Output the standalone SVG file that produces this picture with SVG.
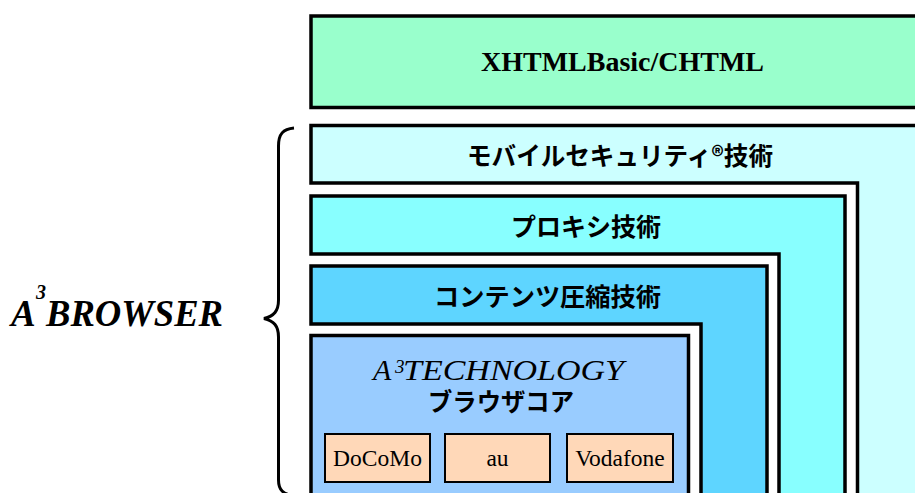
<svg xmlns="http://www.w3.org/2000/svg" width="915" height="493" viewBox="0 0 915 493">
<style>
.box{stroke:#000;stroke-width:3.5;stroke-linejoin:miter}
.vendor{fill:#FFD8B8;stroke:#000;stroke-width:2}
.jp{font-family:"Noto Sans CJK JP","Noto Sans",sans-serif;font-weight:700;fill:#000}
.serif{font-family:"Liberation Serif","Times New Roman",serif;fill:#000}
.vt{font-family:"Liberation Serif","Times New Roman",serif;font-size:23.5px;text-anchor:middle;fill:#000}
</style>
<rect width="915" height="493" fill="#fff"/>
<g id="xhtml">
<rect class="box" x="311" y="16" width="640" height="91.5" fill="#99FFCC"/>
<text class="serif" x="481" y="71" font-size="27" font-weight="700" textLength="283" lengthAdjust="spacingAndGlyphs">XHTMLBasic/CHTML</text>
</g>
<g id="mobile-security">
<path class="box" d="M311,125.5 H940 V520 H857.5 V183 H311 Z" fill="#CCFFFF"/>
<text class="jp" x="467" y="165" font-size="25.5" textLength="306" lengthAdjust="spacingAndGlyphs">モバイルセキュリティ®技術</text>
</g>
<g id="proxy">
<path class="box" d="M311,196 H845 V520 H779 V254 H311 Z" fill="#88FFFF"/>
<text class="jp" x="511" y="236" font-size="25.5" textLength="150" lengthAdjust="spacingAndGlyphs">プロキシ技術</text>
</g>
<g id="compression">
<path class="box" d="M311,266 H767 V520 H701 V324 H311 Z" fill="#5ED5FF"/>
<text class="jp" x="434" y="306" font-size="25.5" textLength="227" lengthAdjust="spacingAndGlyphs">コンテンツ圧縮技術</text>
</g>
<g id="core">
<rect class="box" x="311" y="335.5" width="377.5" height="200" fill="#99CCFF"/>
<text class="serif" font-size="30" font-style="italic"><tspan x="373" y="380">A</tspan><tspan x="395" y="373" font-size="19">3</tspan><tspan x="403" y="380" textLength="221" lengthAdjust="spacingAndGlyphs">TECHNOLOGY</tspan></text>
<text class="jp" x="428" y="411" font-size="24.5" textLength="146" lengthAdjust="spacingAndGlyphs">ブラウザコア</text>
</g>
<g id="docomo">
<rect class="vendor" x="325" y="434" width="105" height="48"/>
<text class="vt" x="377.5" y="466">DoCoMo</text>
</g>
<g id="au">
<rect class="vendor" x="445" y="434" width="105" height="48"/>
<text class="vt" x="497.5" y="466">au</text>
</g>
<g id="vodafone">
<rect class="vendor" x="567" y="434" width="106" height="48"/>
<text class="vt" x="620" y="466">Vodafone</text>
</g>
<g id="a3browser">
<text class="serif" font-size="37" font-weight="700" font-style="italic"><tspan x="11" y="326">A</tspan><tspan x="36" y="299" font-size="20">3</tspan><tspan x="46" y="326" textLength="177" lengthAdjust="spacingAndGlyphs">BROWSER</tspan></text>
</g>
<g id="connectors">
<path id="brace" d="M294,128 C283,129 278.5,134 278.5,146 L278.5,300 C278.5,311 274,316 264,318.5 C274,321 278.5,326 278.5,337 L278.5,480 C278.5,490 283,494 294,496" fill="none" stroke="#000" stroke-width="3"/>
</g>
</svg>
